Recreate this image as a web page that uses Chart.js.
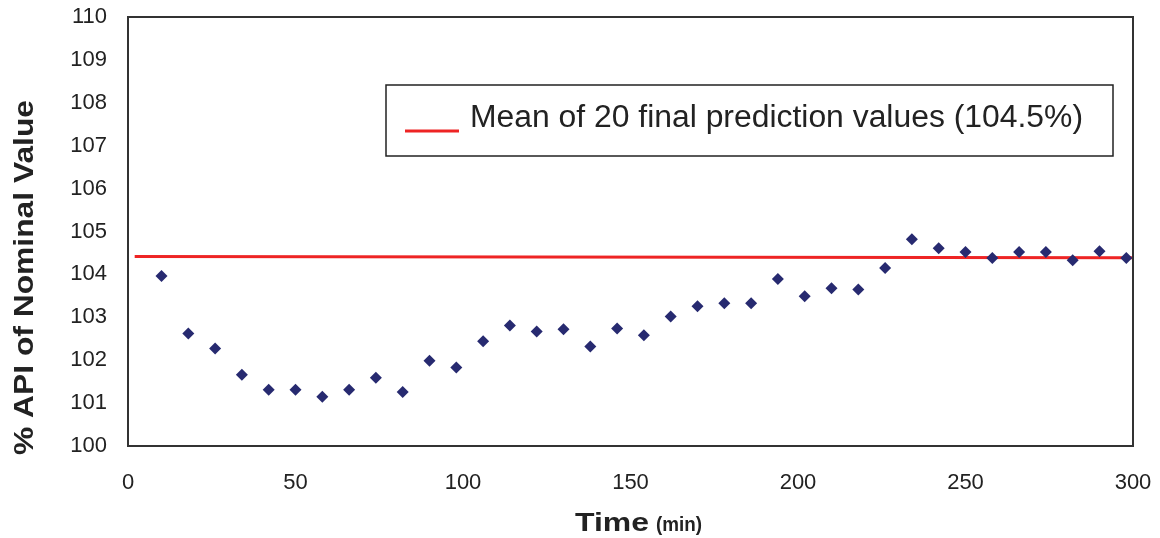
<!DOCTYPE html>
<html>
<head>
<meta charset="utf-8">
<script src="https://cdn.jsdelivr.net/npm/chart.js@4/dist/chart.umd.min.js"></script>
<style>
  html, body { margin: 0; padding: 0; background: #fff; }
  #wrap { width: 1160px; height: 538px; }
</style>
</head>
<body>
<div id="wrap"><canvas id="grafico"></canvas></div>
<script>
// Dados
const tempos = [10, 18, 26, 34, 42, 50, 58, 66, 74, 82, 90, 98, 106, 114, 122, 130, 138, 146, 154, 162, 170, 178, 186, 194, 202, 210, 218, 226, 234, 242, 250, 258, 266, 274, 282, 290, 298];
const apiPct = [103.96, 102.62, 102.27, 101.66, 101.31, 101.31, 101.15, 101.31, 101.59, 101.26, 101.99, 101.83, 102.44, 102.81, 102.67, 102.72, 102.32, 102.74, 102.58, 103.02, 103.26, 103.33, 103.33, 103.89, 103.49, 103.68, 103.65, 104.15, 104.82, 104.61, 104.52, 104.38, 104.52, 104.52, 104.33, 104.54, 104.38];
const mediaX = [2, 300];
const mediaY = [104.42, 104.39];
const yTicks = [100, 101, 102, 103, 104, 105, 106, 107, 108, 109, 110];
const xTicks = [0, 50, 100, 150, 200, 250, 300];
const legendaTexto = "Mean of 20 final prediction values (104.5%)";

const FONTE = "'Liberation Sans', Arial, sans-serif";

// Escreve o texto esticado/comprimido até a largura desejada
function textoLargura(ctx, texto, x, y, largura) {
  const w = ctx.measureText(texto).width;
  ctx.save();
  ctx.translate(x, y);
  ctx.scale(largura / w, 1);
  ctx.fillText(texto, 0, 0);
  ctx.restore();
}

// Moldura, legenda e títulos dos eixos
const extras = {
  id: "extras",
  afterDraw(chart) {
    const { ctx, chartArea: a } = chart;
    ctx.save();
    ctx.strokeStyle = "#333";
    ctx.lineWidth = 2;
    ctx.strokeRect(a.left, a.top, a.right - a.left, a.bottom - a.top);

    // caixa da legenda
    ctx.strokeStyle = "#222";
    ctx.lineWidth = 1.5;
    ctx.strokeRect(386, 85, 727, 71);
    ctx.strokeStyle = "#ee2424";
    ctx.lineWidth = 3;
    ctx.beginPath();
    ctx.moveTo(405, 131);
    ctx.lineTo(459, 131);
    ctx.stroke();
    ctx.fillStyle = "#222";
    ctx.textBaseline = "alphabetic";
    ctx.textAlign = "left";
    ctx.font = "31px " + FONTE;
    textoLargura(ctx, legendaTexto, 470, 127, 613);

    // título eixo x
    ctx.font = "bold 26px " + FONTE;
    textoLargura(ctx, "Time", 575, 531, 74);
    ctx.font = "bold 21px " + FONTE;
    textoLargura(ctx, "(min)", 656, 531, 46);

    // título eixo y
    ctx.translate(33, 455);
    ctx.rotate(-Math.PI / 2);
    ctx.font = "bold 27px " + FONTE;
    textoLargura(ctx, "% API of Nominal Value", 0, 0, 355);
    ctx.restore();
  },
};

function configurarGrafico() {
  const pontos = tempos.map((t, i) => ({ x: t, y: apiPct[i] }));
  const linha = mediaX.map((t, i) => ({ x: t, y: mediaY[i] }));

  new Chart(document.getElementById("grafico").getContext("2d"), {
    type: "scatter",
    data: {
      datasets: [
        {
          label: legendaTexto,
          data: linha,
          showLine: true,
          borderColor: "#ee2424",
          borderWidth: 3,
          pointRadius: 0,
          order: 2,
        },
        {
          label: "% API",
          data: pontos,
          pointStyle: "rectRot",
          pointRadius: 6,
          backgroundColor: "#272a70",
          borderColor: "#272a70",
          borderWidth: 0,
          order: 1,
        },
      ],
    },
    options: {
      responsive: false,
      animation: false,
      layout: { padding: { top: 17, right: 27, left: 0, bottom: 0 } },
      plugins: {
        legend: { display: false },
        tooltip: { enabled: false },
      },
      scales: {
        x: {
          type: "linear",
          min: 0,
          max: 300,
          afterBuildTicks: (s) => { s.ticks = xTicks.map((v) => ({ value: v })); },
          afterFit: (s) => {
            s.height = 92;
            s.paddingLeft = 0;
            s.paddingRight = 0;
          },
          grid: { display: false, drawTicks: false },
          border: { display: false },
          ticks: { padding: 24, color: "#222", font: { family: FONTE, size: 22 }, maxRotation: 0 },
        },
        y: {
          min: 100,
          max: 110,
          afterBuildTicks: (s) => { s.ticks = yTicks.map((v) => ({ value: v })); },
          afterFit: (s) => {
            s.width = 128;
            s.paddingTop = 0;
            s.paddingBottom = 0;
          },
          grid: { display: false, drawTicks: false },
          border: { display: false },
          ticks: { padding: 21, color: "#222", font: { family: FONTE, size: 22 } },
        },
      },
    },
    plugins: [extras],
  });
}

const cv = document.getElementById("grafico");
cv.width = 1160;
cv.height = 538;
configurarGrafico();
</script>
</body>
</html>
